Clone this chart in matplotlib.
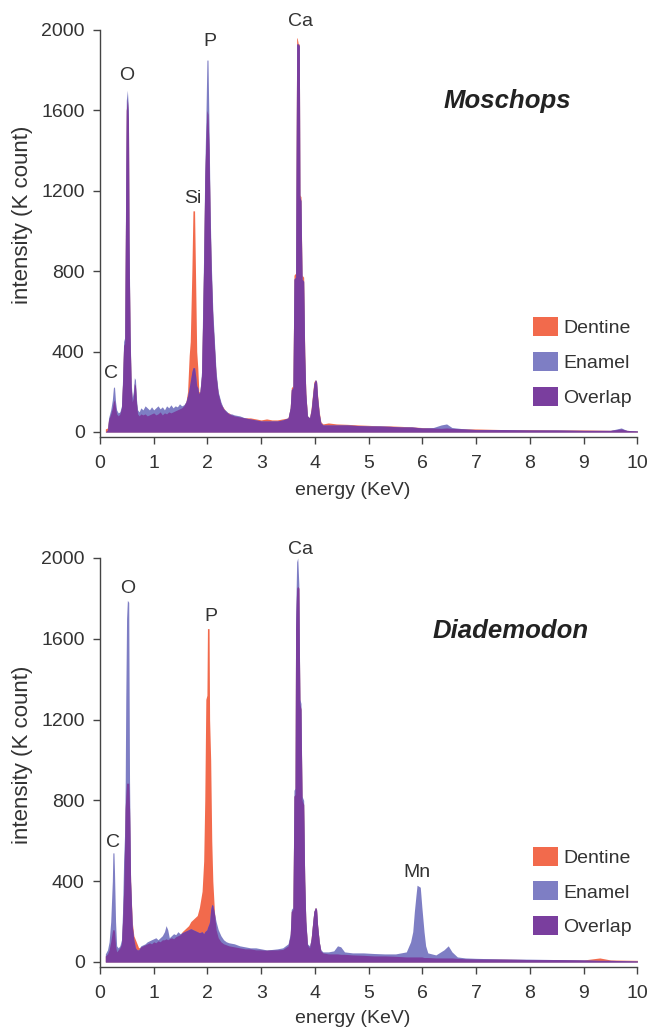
import numpy as np
import matplotlib
matplotlib.use("Agg")
import matplotlib.pyplot as plt
from matplotlib.patches import Patch

plt.rcParams['font.family'] = ['Liberation Sans', 'DejaVu Sans']

# ---------------- Moschops (top) ----------------
energy_m = [0.10, 0.14, 0.16, 0.20, 0.23, 0.25, 0.27, 0.29, 0.31, 0.34, 0.37, 0.40, 0.42, 0.44, 0.46,
            0.47, 0.48, 0.49, 0.51, 0.53, 0.54, 0.56, 0.58, 0.60, 0.62, 0.64, 0.66, 0.68, 0.70, 0.73,
            0.76, 0.80, 0.84, 0.88, 0.92, 0.96, 1.00, 1.04, 1.08, 1.12, 1.16, 1.20, 1.24, 1.28, 1.32,
            1.36, 1.40, 1.44, 1.48, 1.52, 1.56, 1.60, 1.63, 1.66, 1.68, 1.71, 1.73, 1.76, 1.78, 1.80,
            1.82, 1.84, 1.86, 1.89, 1.91, 1.93, 1.95, 1.97, 1.99, 2.01, 2.03, 2.05, 2.07, 2.10, 2.13,
            2.16, 2.20, 2.25, 2.30, 2.35, 2.40, 2.45, 2.50, 2.60, 2.70, 2.80, 2.90, 3.00, 3.10, 3.20,
            3.30, 3.40, 3.50, 3.54, 3.56, 3.59, 3.61, 3.64, 3.66, 3.67, 3.69, 3.71, 3.72, 3.74, 3.76,
            3.79, 3.81, 3.83, 3.86, 3.90, 3.93, 3.96, 3.98, 4.01, 4.03, 4.05, 4.08, 4.11, 4.15, 4.25,
            4.40, 4.60, 4.80, 5.00, 5.20, 5.40, 5.60, 5.80, 6.00, 6.20, 6.35, 6.45, 6.55, 6.80, 7.00,
            7.50, 8.00, 8.50, 9.00, 9.50, 9.70, 9.80, 10.0]
dentine_m = [15, 20, 60, 90, 120, 150, 160, 120, 90, 80, 90, 120, 240, 430, 440,
             850, 1250, 1600, 1660, 1550, 950, 480, 230, 150, 170, 240, 230, 140, 90, 80,
             90, 85, 90, 80, 85, 90, 95, 85, 90, 100, 85, 95, 90, 100, 95,
             100, 105, 110, 115, 120, 130, 150, 200, 380, 450, 800, 1100, 1100, 750, 400,
             320, 200, 200, 280, 550, 850, 1250, 1450, 1600, 1580, 1400, 1050, 800, 560, 420,
             280, 190, 140, 120, 100, 95, 85, 80, 75, 70, 70, 65, 60, 65, 60,
             60, 65, 70, 120, 220, 230, 780, 790, 1960, 1960, 1930, 1930, 1180, 1170, 780,
             770, 400, 200, 80, 70, 120, 200, 250, 260, 250, 180, 100, 50, 40, 45,
             40, 38, 35, 33, 30, 30, 28, 25, 22, 20, 18, 20, 18, 15, 15,
             12, 12, 10, 10, 8, 15, 8, 5]
enamel_m = [0, 10, 70, 110, 160, 220, 225, 150, 110, 95, 100, 130, 260, 450, 470,
            900, 1300, 1650, 1700, 1600, 1000, 500, 250, 170, 200, 270, 260, 160, 110, 100,
            120, 110, 130, 120, 110, 125, 110, 120, 130, 115, 125, 110, 130, 120, 135,
            120, 130, 125, 140, 130, 135, 150, 180, 220, 250, 300, 320, 320, 280, 230,
            220, 190, 200, 300, 600, 900, 1300, 1550, 1850, 1850, 1500, 1100, 850, 600, 450,
            300, 200, 150, 115, 105, 90, 90, 85, 80, 70, 65, 60, 55, 55, 55,
            55, 60, 70, 120, 210, 220, 760, 770, 1930, 1930, 1930, 1920, 1170, 1150, 760,
            750, 380, 190, 80, 70, 110, 190, 240, 260, 250, 170, 90, 45, 35, 35,
            35, 35, 32, 30, 30, 28, 25, 25, 20, 22, 35, 40, 22, 15, 12,
            12, 10, 10, 8, 8, 20, 8, 5]

# ---------------- Diademodon (bottom) ----------------
energy_d = [0.10, 0.14, 0.17, 0.20, 0.23, 0.24, 0.26, 0.27, 0.29, 0.31, 0.34, 0.37, 0.40, 0.42, 0.44,
            0.46, 0.47, 0.48, 0.495, 0.51, 0.535, 0.55, 0.57, 0.60, 0.63, 0.66, 0.69, 0.72, 0.76, 0.80,
            0.84, 0.88, 0.92, 0.96, 1.00, 1.04, 1.08, 1.12, 1.16, 1.20, 1.23, 1.26, 1.29, 1.33, 1.37,
            1.41, 1.45, 1.49, 1.53, 1.57, 1.61, 1.65, 1.69, 1.73, 1.77, 1.81, 1.85, 1.90, 1.93, 1.95,
            1.97, 1.99, 2.00, 2.03, 2.04, 2.06, 2.08, 2.10, 2.13, 2.16, 2.20, 2.25, 2.30, 2.35, 2.40,
            2.50, 2.60, 2.70, 2.80, 2.90, 3.00, 3.10, 3.20, 3.30, 3.40, 3.50, 3.54, 3.56, 3.59, 3.61,
            3.63, 3.64, 3.66, 3.68, 3.70, 3.72, 3.74, 3.76, 3.79, 3.81, 3.83, 3.86, 3.90, 3.93, 3.96,
            3.98, 4.01, 4.03, 4.05, 4.08, 4.11, 4.15, 4.25, 4.35, 4.42, 4.48, 4.55, 4.70, 4.90, 5.10,
            5.30, 5.50, 5.70, 5.78, 5.82, 5.85, 5.88, 5.90, 5.96, 5.99, 6.03, 6.06, 6.10, 6.25, 6.40,
            6.48, 6.55, 6.65, 6.80, 7.00, 7.50, 8.00, 8.50, 9.00, 9.30, 9.50, 10.0]
dentine_d = [30, 40, 60, 100, 150, 160, 160, 150, 80, 50, 60, 70, 90, 200, 350,
             600, 760, 820, 885, 885, 885, 760, 400, 200, 130, 110, 90, 70, 75, 80,
             85, 90, 95, 90, 100, 95, 105, 100, 110, 110, 115, 110, 115, 120, 115,
             125, 130, 135, 150, 160, 170, 180, 200, 210, 220, 230, 270, 350, 500, 800,
             1300, 1320, 1650, 1650, 1200, 1000, 600, 400, 250, 160, 120, 100, 90, 85, 80,
             75, 70, 65, 65, 60, 60, 58, 60, 60, 62, 80, 130, 250, 260, 820,
             830, 1650, 1850, 1860, 1850, 1280, 1250, 800, 780, 400, 200, 85, 70, 120, 200,
             250, 270, 260, 180, 100, 55, 45, 40, 40, 40, 38, 38, 35, 33, 30,
             30, 28, 25, 25, 25, 25, 25, 25, 25, 25, 22, 22, 22, 20, 20,
             20, 20, 18, 16, 15, 14, 12, 12, 10, 20, 10, 8]
enamel_d = [40, 60, 100, 200, 400, 540, 540, 450, 200, 80, 70, 80, 110, 250, 500,
            650, 900, 1300, 1700, 1790, 1780, 900, 400, 180, 110, 70, 60, 60, 80, 85,
            90, 100, 105, 110, 115, 120, 110, 120, 130, 150, 180, 160, 120, 130, 140,
            135, 150, 140, 145, 150, 155, 160, 165, 160, 155, 150, 145, 150, 140, 150,
            155, 160, 170, 190, 200, 260, 285, 280, 240, 200, 160, 130, 110, 100, 95,
            90, 80, 75, 70, 70, 65, 60, 62, 65, 70, 90, 140, 260, 270, 850,
            860, 1700, 1980, 2000, 1870, 1300, 1280, 820, 800, 410, 210, 90, 80, 115, 200,
            250, 270, 260, 180, 100, 60, 50, 50, 55, 80, 75, 50, 45, 45, 42,
            40, 40, 50, 100, 150, 250, 330, 380, 370, 270, 150, 80, 45, 35, 60,
            80, 50, 25, 20, 18, 15, 14, 12, 10, 8, 8, 5]

series_names = ["Dentine", "Enamel", "Overlap"]
colors = {"Dentine": "#F26A4C", "Enamel": "#7E7EC4", "Overlap": "#7A3E9E"}

panels = [
    dict(energy=energy_m, dentine=dentine_m, enamel=enamel_m, title="Moschops",
         labels=[("C", 0.21, 293), ("O", 0.49, 1775), ("Si", 1.73, 1159), ("P", 2.05, 1940), ("Ca", 3.73, 2040)],
         rect=[0.1531, 0.5749, 0.823, 0.396], title_xy=(7.58, 1645), ylab_y=0.545,
         xlab_y=-0.111),
    dict(energy=energy_d, dentine=dentine_d, enamel=enamel_d, title="Diademodon",
         labels=[("C", 0.24, 589), ("O", 0.51, 1851), ("P", 2.07, 1708), ("Ca", 3.73, 2040), ("Mn", 5.89, 445)],
         rect=[0.1531, 0.0593, 0.823, 0.398], title_xy=(7.64, 1640), ylab_y=0.518,
         xlab_y=-0.105),
]

fig = plt.figure(figsize=(6.53, 10.28), dpi=100)
spine_col = "#444444"
text_col = "#333333"

for p in panels:
    ax = fig.add_axes(p["rect"])
    x = np.array(p["energy"])
    d = np.array(p["dentine"], dtype=float)
    e = np.array(p["enamel"], dtype=float)
    ov = np.minimum(d, e)
    ax.fill_between(x, 0, d, color=colors["Dentine"], lw=0)
    ax.fill_between(x, 0, e, color=colors["Enamel"], lw=0)
    ax.fill_between(x, 0, ov, color=colors["Overlap"], lw=0)

    ax.set_xlim(0, 10)
    ax.set_ylim(-25, 2000)
    ax.set_xticks(range(0, 11))
    ax.set_yticks([0, 400, 800, 1200, 1600, 2000])
    for s in ["top", "right"]:
        ax.spines[s].set_visible(False)
    for s in ["left", "bottom"]:
        ax.spines[s].set_color(spine_col)
        ax.spines[s].set_linewidth(1.0)
    ax.tick_params(direction="out", length=5, width=1, color=spine_col,
                   labelsize=14, labelcolor=text_col)
    ax.tick_params(axis="x", pad=8)
    ax.tick_params(axis="y", pad=6)
    ax.set_xlabel("energy (KeV)", fontsize=14, color=text_col)
    ax.set_ylabel("intensity (K count)", fontsize=16, color=text_col)
    ax.xaxis.set_label_coords(0.47, p["xlab_y"])
    ax.yaxis.set_label_coords(-0.125, p["ylab_y"])

    for lab, lx, ly in p["labels"]:
        ax.text(lx, ly, lab, ha="center", va="center", fontsize=14, color=text_col, clip_on=False)

    ax.text(p["title_xy"][0], p["title_xy"][1], p["title"], ha="center", va="center",
            fontsize=18.5, fontweight="bold", fontstyle="italic", color="#222222")

    handles = [Patch(facecolor=colors[n], edgecolor="none") for n in series_names]
    ax.legend(handles, series_names, loc="upper left", bbox_to_anchor=(0.805, 0.294),
              frameon=False, fontsize=14, handlelength=1.29, handleheight=1.13,
              handletextpad=0.3, labelspacing=0.75, borderpad=0, borderaxespad=0,
              labelcolor=text_col)

fig.savefig("out.png", dpi=100)
